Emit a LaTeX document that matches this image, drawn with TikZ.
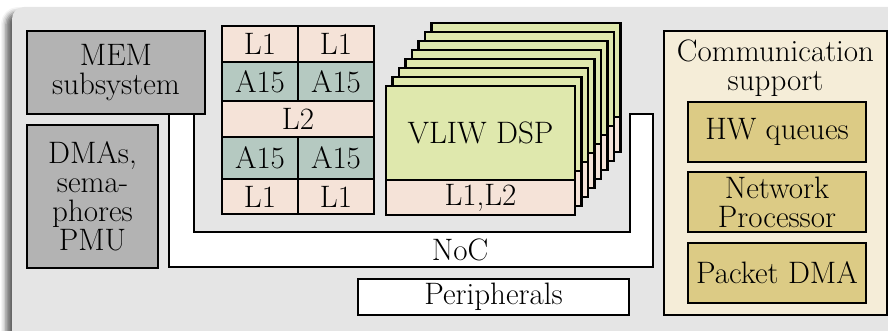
\documentclass[tikz,border=0pt]{standalone}
\usetikzlibrary{shadows.blur}
\definecolor{socgray}{RGB}{229,229,229}
\definecolor{memgray}{RGB}{179,179,179}
\definecolor{cachepink}{RGB}{245,227,216}
\definecolor{armgreen}{RGB}{181,201,193}
\definecolor{dspgreen}{RGB}{223,232,173}
\definecolor{commcream}{RGB}{245,237,216}
\definecolor{commgold}{RGB}{220,203,133}
\begin{document}
\begin{tikzpicture}[x=1pt,y=-1pt,
  lbl/.style={font=\fontsize{31}{29}\selectfont,align=center},
  blk/.style={lbl,draw,line width=2.5pt,inner sep=0pt},
  cache/.style={blk,fill=cachepink},
  arm/.style={blk,fill=armgreen}]
\useasboundingbox (0,0) rectangle (888,331);
\clip (0,0) rectangle (888,331);
\fill[socgray,rounded corners=12pt,
  blur shadow={shadow xshift=-6pt,shadow yshift=-5pt,shadow blur radius=5pt,shadow opacity=60}]
  (12,7) rectangle (900,345);
% NoC
\draw[fill=white,line width=2.5pt] (169,114) -- (169,267) -- (653,267) -- (653,114)
  -- (630,114) -- (630,232) -- (194,232) -- (194,114) -- cycle;
\node (noc) at (460,250) [lbl] {NoC};
\node (mem) at (116,72.5) [blk,fill=memgray,minimum width=178pt,minimum height=83pt] {MEM\\subsystem};
\node (dma) at (92.5,196.5) [blk,fill=memgray,minimum width=131pt,minimum height=143pt] {DMAs,\\sema-\\phores\\PMU};
\node (periph) at (493.5,297) [blk,fill=white,minimum width=271pt,minimum height=36pt] {Peripherals};
% A15 cluster
\node (l1a) at (260,44) [cache,minimum width=76pt,minimum height=36pt] {L1};
\node (l1b) at (336,44) [cache,minimum width=76pt,minimum height=36pt] {L1};
\node (a15a) at (260,81.5) [arm,minimum width=76pt,minimum height=39pt] {A15};
\node (a15b) at (336,81.5) [arm,minimum width=76pt,minimum height=39pt] {A15};
\node (l2) at (298,119) [cache,minimum width=152pt,minimum height=36pt] {L2};
\node (a15c) at (260,158) [arm,minimum width=76pt,minimum height=42pt] {A15};
\node (a15d) at (336,158) [arm,minimum width=76pt,minimum height=42pt] {A15};
\node (l1c) at (260,196.5) [cache,minimum width=76pt,minimum height=35pt] {L1};
\node (l1d) at (336,196.5) [cache,minimum width=76pt,minimum height=35pt] {L1};
% DSP cores
\foreach \i in {7,...,1} {
  \node (dsp\i) at (480.5+6.5*\i,133-9*\i) [blk,fill=dspgreen,minimum width=189pt,minimum height=94pt] {};
  \node (dspmem\i) at (480.5+6.5*\i,197.5-9*\i) [cache,minimum width=189pt,minimum height=35pt] {};
}
\node (dsp0) at (480.5,133) [blk,fill=dspgreen,minimum width=189pt,minimum height=94pt] {VLIW DSP};
\node (dspmem0) at (480.5,197.5) [cache,minimum width=189pt,minimum height=35pt] {L1,L2};
% communication support
\node (comm) at (775.5,173) [blk,fill=commcream,minimum width=223pt,minimum height=284pt] {};
\node (commtitle) at (775.5,68) [lbl] {Communication\\support};
\node (hwq) at (777,132) [blk,fill=commgold,minimum width=178pt,minimum height=60pt] {HW queues};
\node (netp) at (777,202) [blk,fill=commgold,minimum width=178pt,minimum height=60pt] {Network\\Processor};
\node (pdma) at (777,273) [blk,fill=commgold,minimum width=178pt,minimum height=60pt] {Packet DMA};
\end{tikzpicture}
\end{document}
